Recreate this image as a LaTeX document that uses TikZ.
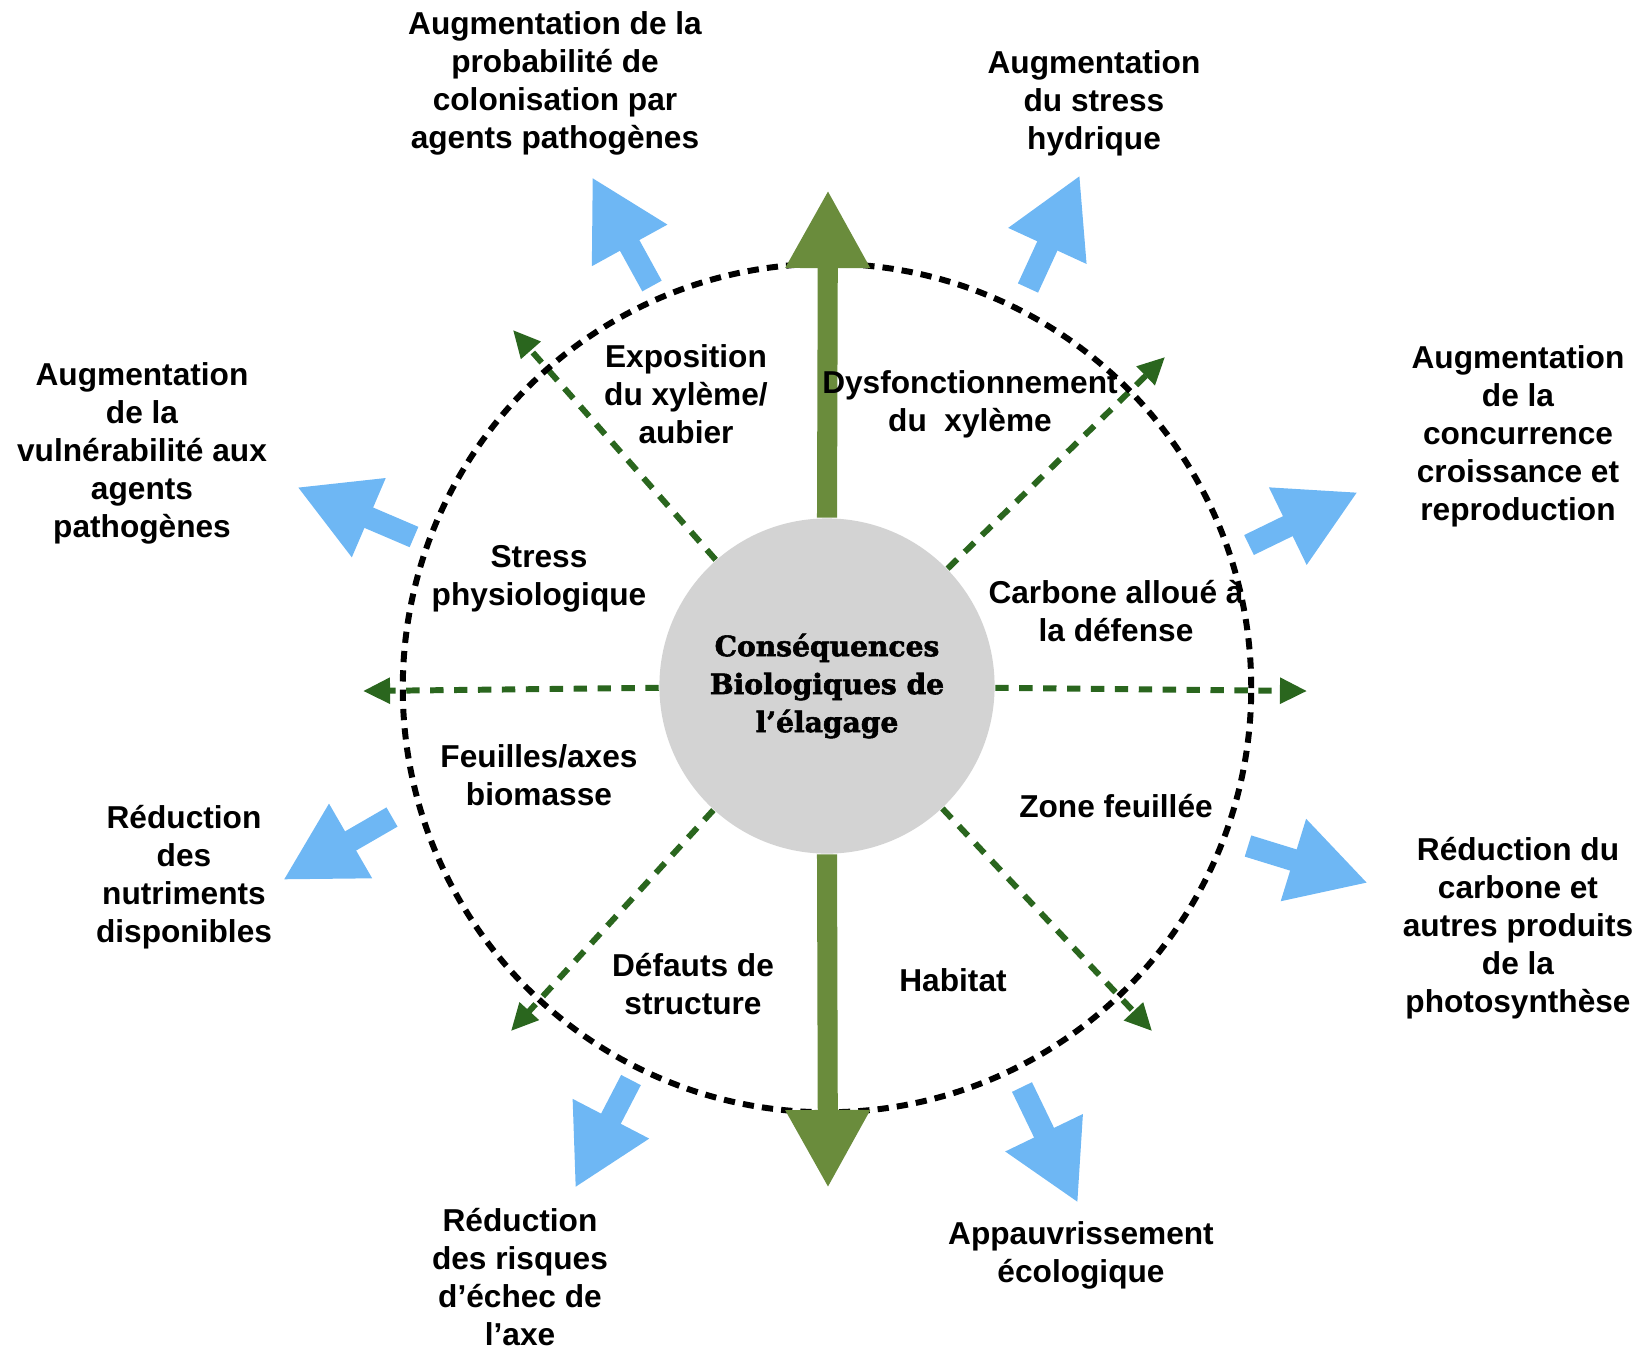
\documentclass[tikz,border=0pt]{standalone}
\usepackage{fontspec}
\setmainfont{Liberation Sans}
\newfontfamily\slabfont[BoldFeatures={FakeBold=2}]{DejaVu Serif}
\usetikzlibrary{arrows.meta,positioning}
\definecolor{skyblue}{RGB}{110,183,244}
\definecolor{darkleaf}{RGB}{42,102,30}
\definecolor{mossgreen}{RGB}{106,140,60}
\definecolor{coregray}{RGB}{211,211,211}

\begin{document}
\begin{tikzpicture}[x=0.01cm,y=-0.01cm]
\tikzstyle{every node}=[inner sep=0pt, align=center,
                        font=\bfseries\fontsize{9}{10.8}\selectfont]
\tikzstyle{trunk}=[mossgreen, line width=5.7pt,
                   -{Triangle[length=22.2pt,width=22.5pt]}]
\tikzstyle{branch}=[darkleaf, line width=1.7pt, dash pattern=on 3.8pt off 3pt,
                    -{Triangle[length=7.7pt,width=7.1pt]}]
\tikzstyle{effect}=[skyblue, line width=6.3pt,
                    -{Triangle[length=22.2pt,width=22.8pt]}]
\useasboundingbox (0,0) rectangle (1642,1350);

\node[circle, fill=coregray, minimum size=3.35cm,
      font=\slabfont\bfseries\fontsize{8}{10.8}\selectfont] (core) at (827,686)
      {Conséquences\\Biologiques de\\l’élagage};

% green dashed branches
\coordinate (g1) at (513,330);
\coordinate (g2) at (1165,357);
\coordinate (g3) at (363,691);
\coordinate (g4) at (1307,691);
\coordinate (g5) at (511,1031);
\coordinate (g6) at (1152,1031);
\foreach \i in {1,...,6}{\draw[branch] (core) -- (g\i);}

\node[circle, draw, minimum size=8.48cm, line width=1.7pt,
      dash pattern=on 3.2pt off 2.3pt] (ring) at (827,688) {};

\coordinate (top) at (828,190);
\coordinate (bottom) at (828,1188);
\draw[trunk] (core.north) -- (top);
\draw[trunk] (core.south) -- (bottom);

% blue arrows
\coordinate (t1) at (652,286);  \coordinate (h1) at (592,177);
\coordinate (t2) at (1028,288); \coordinate (h2) at (1080,175);
\coordinate (t3) at (414,537);  \coordinate (h3) at (297,487);
\coordinate (t4) at (1249,545); \coordinate (h4) at (1358,492);
\coordinate (t5) at (392,817);  \coordinate (h5) at (283,880);
\coordinate (t6) at (1248,846); \coordinate (h6) at (1368,883);
\coordinate (t7) at (631,1080); \coordinate (h7) at (575,1188);
\coordinate (t8) at (1022,1087);\coordinate (h8) at (1078,1203);
\foreach \i in {1,...,8}{\draw[effect] (t\i) -- (h\i);}

% inner labels
\node (expo) at (686,394) {Exposition\\du xylème/\\aubier};
\node (dysf) at (970,404) {Dysfonctionnement\\du\ \ xylème};
\node (stress) at (539,579) {Stress\\physiologique};
\node (carb) at (1116,611) {Carbone alloué à\\la défense};
\node (leaf) at (539,775) {Feuilles/axes\\biomasse};
\node (zone) at (1116,806) {Zone feuillée};
\node (defect) at (693,984) {Défauts de\\structure};
\node (habitat) at (953,980) {Habitat};

% outer labels
\node (colon) at (555,83) {Augmentation de la\\probabilité de\\colonisation par\\agents pathogènes};
\node (water) at (1094,103) {Augmentation\\du stress\\hydrique};
\node (vuln) at (142,453) {Augmentation\\de la\\vulnérabilité aux\\agents\\pathogènes};
\node (compet) at (1518,436) {Augmentation\\de la\\concurrence\\croissance et\\reproduction};
\node (nutri) at (184,877) {Réduction\\des\\nutriments\\disponibles};
\node (photo) at (1518,928) {Réduction du\\carbone et\\autres produits\\de la\\photosynthèse};
\node (axis) at (520,1277) {Réduction\\des risques\\d’échec de\\l’axe};
\node (eco) at (1081,1255) {Appauvrissement\\écologique};
\end{tikzpicture}
\end{document}
